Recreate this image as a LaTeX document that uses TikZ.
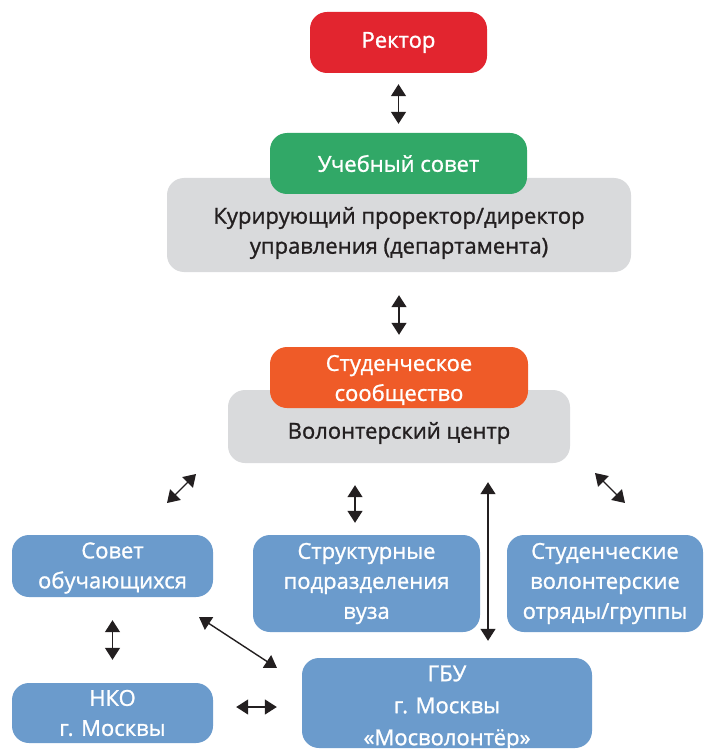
\documentclass[tikz,border=0pt]{standalone}
\usepackage{fontspec}
\setmainfont{Open Sans}[FakeBold=1.1]
\usetikzlibrary{arrows.meta,calc}
\definecolor{cred}{HTML}{E2252F}
\definecolor{cgreen}{HTML}{31A867}
\definecolor{corange}{HTML}{EF5B28}
\definecolor{cgray}{HTML}{D9DADC}
\definecolor{cblue}{HTML}{6B9BCC}
\definecolor{ctext}{HTML}{231F20}
\tikzset{
  box/.style={rounded corners=17pt, align=center, inner sep=0pt,
    font=\fontsize{22}{30}\selectfont},
  redbox/.style={box, fill=cred, text=white},
  greenbox/.style={box, fill=cgreen, text=white},
  orangebox/.style={box, fill=corange, text=white},
  graybox/.style={box, fill=cgray, text=ctext},
  bluebox/.style={box, fill=cblue, text=white},
  arr/.style={{Triangle[width=15pt,length=12pt]}-{Triangle[width=15pt,length=12pt]}, line width=1.4pt, draw=ctext},
}
\begin{document}
\begin{tikzpicture}[x=1pt,y=-1pt]
\useasboundingbox (0,0) rectangle (704,751);
% top
\node[redbox, minimum width=177pt, minimum height=61pt] (rector) at (398.5,42.5) {Ректор};
\node[graybox, minimum width=464pt, minimum height=94pt] (cur) at (399,225) {};
\node[graybox, fill=none] (curtext) at (399,233) {Курирующий проректор/директор\\управления (департамента)};
\node[greenbox, minimum width=257pt, minimum height=61pt] (council) at (398.5,163.5) {Учебный совет};
% middle
\node[graybox, minimum width=342pt, minimum height=73pt] (vc) at (399,426.5) {};
\node[graybox, fill=none] (vctext) at (399,433) {Волонтерский центр};
\node[orangebox, minimum width=258pt, minimum height=61pt] (stud) at (399,377.5) {};
\node[orangebox, fill=none] (studtext) at (399,380) {Студенческое\\сообщество};
% bottom
\node[bluebox, minimum width=201pt, minimum height=62pt] (sovet) at (112.5,566) {};
\node[bluebox, fill=none] (sovettext) at (112.5,568) {Совет\\обучающихся};
\node[bluebox, minimum width=227pt, minimum height=97pt] (struct) at (366.5,583.5) {Структурные\\подразделения\\вуза};
\node[bluebox, minimum width=196pt, minimum height=97pt] (otr) at (605,583.5) {Студенческие\\волонтерские\\отряды/группы};
\node[bluebox, minimum width=201pt, minimum height=60pt] (nko) at (112.5,713) {НКО\\г. Москвы};
\node[bluebox, minimum width=290pt, minimum height=90pt] (gbu) at (447,703) {};
\node[bluebox, fill=none, font=\fontsize{22}{32}\selectfont] (gbutext) at (447,708) {ГБУ\\г. Москвы\\«Мосволонтёр»};
% connectors
\draw[arr, shorten <=11pt, shorten >=9pt] (rector.south) -- (council.north);
\draw[arr, shorten <=23pt, shorten >=12pt] (cur.south) -- (stud.north);
\coordinate (dl1) at (167,503); \coordinate (dl2) at (196,474);
\draw[arr] (dl1) -- (dl2);
\coordinate (sx) at (355,0);
\draw[arr, shorten <=22pt, shorten >=12pt] (vc.south -| sx) -- (struct.north -| sx);
\coordinate (gx) at (488,0);
\draw[arr, shorten <=19pt, shorten >=17pt] (vc.south -| gx) -- (gbu.north -| gx);
\coordinate (dr1) at (595,473); \coordinate (dr2) at (625,503);
\draw[arr] (dr1) -- (dr2);
\draw[arr, shorten <=23pt, shorten >=23pt] (sovet.south) -- (nko.north);
\coordinate (hy) at (0,707);
\draw[arr, shorten <=23pt, shorten >=25pt] (nko.east |- hy) -- (gbu.west |- hy);
\coordinate (sg1) at (199,617); \coordinate (sg2) at (277,668);
\draw[arr] (sg1) -- (sg2);
\end{tikzpicture}
\end{document}
